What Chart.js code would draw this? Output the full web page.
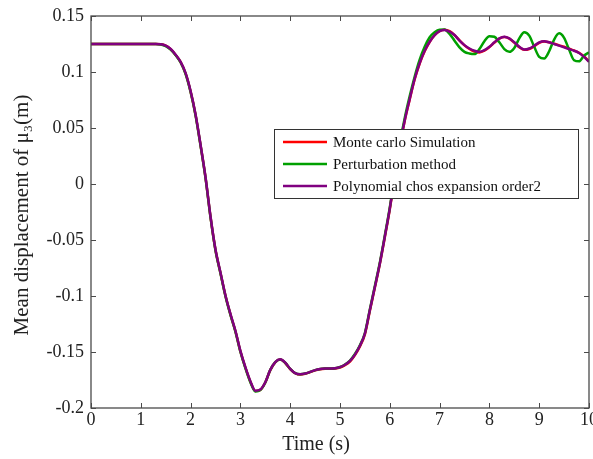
<!DOCTYPE html>
<html>
<head>
<meta charset="utf-8">
<script src="https://cdn.jsdelivr.net/npm/chart.js@4"></script>
<style>
  html, body { margin: 0; padding: 0; background: #fff; }
  #wrap { width: 593px; height: 459px; position: relative; }
</style>
</head>
<body>
<div id="wrap"><canvas id="c" width="593" height="459"></canvas></div>
<script>
// ---- data ----
const times = [
  0.0,0.1,0.2,0.3,0.4,0.5,0.6,0.7,0.8,0.9,
  1.0,1.1,1.2,1.3,1.4,1.5,1.6,1.7,1.8,1.9,
  2.0,2.1,2.2,2.3,2.4,2.5,2.6,2.7,2.8,2.9,
  3.0,3.1,3.2,3.3,3.4,3.5,3.6,3.7,3.8,3.9,
  4.0,4.1,4.2,4.3,4.4,4.5,4.6,4.7,4.8,4.9,
  5.0,5.1,5.2,5.3,5.4,5.5,5.6,5.7,5.8,5.9,
  6.0,6.1,6.2,6.3,6.4,6.5,6.6,6.7,6.8,6.9,
  7.0,7.1,7.2,7.3,7.4,7.5,7.6,7.7,7.8,7.9,
  8.0,8.1,8.2,8.3,8.4,8.5,8.6,8.7,8.8,8.9,
  9.0,9.1,9.2,9.3,9.4,9.5,9.6,9.7,9.8,9.9,
  10.0
];
const monteCarlo = [
  0.125,0.125,0.125,0.125,0.125,0.125,0.125,0.125,0.125,0.125,
  0.125,0.125,0.125,0.125,0.1248,0.1235,0.1203,0.1152,0.1088,0.0985,
  0.0825,0.0615,0.0345,0.0055,-0.0295,-0.0590,-0.0795,-0.0998,-0.1165,-0.1315,
  -0.1495,-0.1640,-0.1765,-0.1848,-0.1838,-0.1772,-0.1662,-0.1592,-0.1568,-0.1598,
  -0.1652,-0.1690,-0.1702,-0.1695,-0.1680,-0.1664,-0.1654,-0.1650,-0.1649,-0.1647,
  -0.1638,-0.1617,-0.1585,-0.1528,-0.1450,-0.1342,-0.1132,-0.0925,-0.0715,-0.0475,
  -0.0225,0.0065,0.0335,0.0565,0.0755,0.0935,0.1075,0.1185,0.1268,0.1328,
  0.1365,0.1378,0.1365,0.1330,0.1282,0.1238,0.1205,0.1182,0.1175,0.1190,
  0.1222,0.1262,0.1298,0.1312,0.1298,0.1262,0.1222,0.1198,0.1205,0.1230,
  0.1260,0.1272,0.1265,0.1252,0.1238,0.1225,0.1208,0.1192,0.1172,0.1140,
  0.1095
];
const perturbation = [
  0.125,0.125,0.125,0.125,0.125,0.125,0.125,0.125,0.125,0.125,
  0.125,0.125,0.125,0.125,0.1246,0.1232,0.1200,0.1150,0.1085,0.0982,
  0.0822,0.0612,0.0342,0.0052,-0.0298,-0.0593,-0.0798,-0.1001,-0.1168,-0.1318,
  -0.1498,-0.1644,-0.1770,-0.1852,-0.1840,-0.1772,-0.1660,-0.1590,-0.1566,-0.1596,
  -0.1650,-0.1688,-0.1698,-0.1692,-0.1678,-0.1662,-0.1652,-0.1648,-0.1647,-0.1645,
  -0.1634,-0.1611,-0.1576,-0.1518,-0.1440,-0.1330,-0.1118,-0.0910,-0.0700,-0.0460,
  -0.0210,0.0085,0.0360,0.0590,0.0785,0.0960,0.1110,0.1225,0.1310,0.1355,
  0.1378,0.1380,0.1340,0.1280,0.1220,0.1180,0.1165,0.1160,0.1205,0.1275,
  0.1320,0.1315,0.1265,0.1205,0.1180,0.1215,0.1300,0.1355,0.1325,0.1225,
  0.1135,0.1120,0.1185,0.1290,0.1345,0.1305,0.1200,0.1105,0.1095,0.1145,
  0.1175
];
const polyChaos = [
  0.125,0.125,0.125,0.125,0.125,0.125,0.125,0.125,0.125,0.125,
  0.125,0.125,0.125,0.125,0.1248,0.1235,0.1205,0.1155,0.1090,0.0990,
  0.0830,0.0620,0.0350,0.0060,-0.0290,-0.0585,-0.0790,-0.0995,-0.1160,-0.1310,
  -0.1490,-0.1635,-0.1760,-0.1845,-0.1835,-0.1770,-0.1660,-0.1590,-0.1565,-0.1595,
  -0.1650,-0.1688,-0.1698,-0.1692,-0.1678,-0.1662,-0.1652,-0.1648,-0.1647,-0.1645,
  -0.1635,-0.1614,-0.1580,-0.1523,-0.1445,-0.1335,-0.1125,-0.0920,-0.0710,-0.0470,
  -0.0220,0.0070,0.0340,0.0570,0.0760,0.0940,0.1080,0.1190,0.1270,0.1330,
  0.1365,0.1375,0.1360,0.1330,0.1280,0.1240,0.1210,0.1190,0.1180,0.1195,
  0.1225,0.1265,0.1300,0.1315,0.1300,0.1265,0.1225,0.1200,0.1210,0.1235,
  0.1265,0.1275,0.1265,0.1250,0.1235,0.1220,0.1205,0.1190,0.1170,0.1135,
  0.1090
];
const seriesLabels = ['Monte carlo Simulation', 'Perturbation method', 'Polynomial chos expansion order2'];
const xTickValues = [0,1,2,3,4,5,6,7,8,9,10];
const yTickValues = [-0.2,-0.15,-0.1,-0.05,0,0.05,0.1,0.15];
const xTitle = 'Time (s)';
const yTitle = 'Mean displacement of \u03bc\u2083(m)';

// ---- styling ----
const FONT = '"Liberation Serif", "Times New Roman", serif';
const FRAME = '#4a4a4a';

function pts(vals) { return times.map((t, i) => ({ x: t, y: vals[i] })); }

const framePlugin = {
  id: 'frame',
  afterDatasetsDraw(chart) {
    const { ctx, chartArea: a, scales } = chart;
    const xs = scales.x, ys = scales.y;
    ctx.save();
    ctx.strokeStyle = FRAME;
    ctx.lineWidth = 1.3;
    ctx.strokeRect(a.left, a.top, a.right - a.left, a.bottom - a.top);
    const L = 5;
    ctx.beginPath();
    xTickValues.forEach(v => {
      const px = Math.round(xs.getPixelForValue(v)) + 0.5;
      ctx.moveTo(px, a.bottom); ctx.lineTo(px, a.bottom - L);
      ctx.moveTo(px, a.top); ctx.lineTo(px, a.top + L);
    });
    yTickValues.forEach(v => {
      const py = Math.round(ys.getPixelForValue(v)) + 0.5;
      ctx.moveTo(a.left, py); ctx.lineTo(a.left + L, py);
      ctx.moveTo(a.right, py); ctx.lineTo(a.right - L, py);
    });
    ctx.lineWidth = 1;
    ctx.stroke();
    ctx.restore();
  },
  afterDraw(chart) {
    const { ctx, chartArea: a } = chart;
    ctx.save();
    ctx.fillStyle = '#222';
    ctx.textAlign = 'center';
    ctx.textBaseline = 'middle';
    ctx.font = '20px ' + FONT;
    ctx.fillText(xTitle, 316, 445);
    ctx.font = '21px ' + FONT;
    ctx.translate(22, (a.top + a.bottom) / 2 + 3);
    ctx.rotate(-Math.PI / 2);
    ctx.fillText(yTitle, 0, 0);
    ctx.restore();

    // legend
    const box = { left: 274, top: 129, right: 578, bottom: 198 };
    ctx.save();
    ctx.fillStyle = '#fff';
    ctx.fillRect(box.left, box.top, box.right - box.left, box.bottom - box.top);
    ctx.strokeStyle = '#333';
    ctx.lineWidth = 1;
    ctx.strokeRect(box.left + 0.5, box.top + 0.5, box.right - box.left, box.bottom - box.top);
    ctx.font = '15px ' + FONT;
    ctx.textBaseline = 'middle';
    ctx.textAlign = 'left';
    const rows = [142, 164, 186];
    chart.data.datasets.forEach((ds, i) => {
      const y = rows[i];
      ctx.strokeStyle = ds.borderColor;
      ctx.lineWidth = 2.5;
      ctx.beginPath();
      ctx.moveTo(283, y); ctx.lineTo(327, y);
      ctx.stroke();
      ctx.fillStyle = '#111';
      ctx.fillText(ds.label, 333, y + 1);
    });
    ctx.restore();
  }
};

new Chart(document.getElementById('c'), {
  type: 'line',
  data: {
    datasets: [
      { label: seriesLabels[0], data: pts(monteCarlo), borderColor: '#ff0000', order: 2 },
      { label: seriesLabels[1], data: pts(perturbation), borderColor: '#00a000', order: 1 },
      { label: seriesLabels[2], data: pts(polyChaos), borderColor: '#800080', order: 0 }
    ]
  },
  options: {
    responsive: false,
    animation: false,
    devicePixelRatio: 1,
    layout: { padding: { left: 0, top: 16, right: 4, bottom: 0 } },
    elements: {
      point: { radius: 0, hoverRadius: 0 },
      line: { borderWidth: 2.5, cubicInterpolationMode: 'monotone', fill: false }
    },
    plugins: { legend: { display: false }, tooltip: { enabled: false }, title: { display: false } },
    scales: {
      x: {
        type: 'linear',
        min: 0, max: 10,
        afterBuildTicks(s) { s.ticks = xTickValues.map(v => ({ value: v })); },
        afterFit(s) { s.height = 51; s.paddingLeft = 0; s.paddingRight = 0; },
        grid: { display: false, drawTicks: false, tickLength: 0 },
        border: { display: false },
        ticks: {
          padding: 1,
          maxRotation: 0,
          autoSkip: false,
          color: '#222',
          font: { family: FONT, size: 18 },
          callback: v => String(v)
        }
      },
      y: {
        type: 'linear',
        min: -0.2, max: 0.15,
        afterBuildTicks(s) { s.ticks = yTickValues.map(v => ({ value: v })); },
        afterFit(s) { s.width = 91; s.paddingTop = 0; s.paddingBottom = 0; },
        grid: { display: false, drawTicks: false, tickLength: 0 },
        border: { display: false },
        ticks: {
          padding: 7,
          autoSkip: false,
          color: '#222',
          font: { family: FONT, size: 18 },
          callback: v => String(Number(v.toFixed(2)))
        }
      }
    }
  },
  plugins: [framePlugin]
});
</script>
</body>
</html>
